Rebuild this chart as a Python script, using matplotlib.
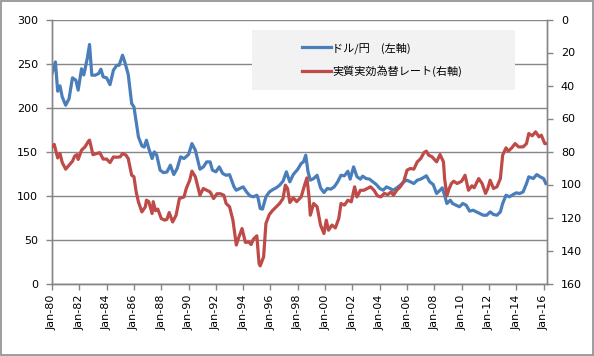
import matplotlib
matplotlib.use("Agg")
import matplotlib.pyplot as plt
from matplotlib.patches import Rectangle
from matplotlib.lines import Line2D
import pandas as pd

# USD/JPY (left axis)
usd_dates = [
    "1980-01", "1980-04", "1980-06", "1980-08", "1980-10", "1981-01", "1981-04", "1981-07",
    "1981-10", "1981-12", "1982-03", "1982-05", "1982-08", "1982-10", "1982-12", "1983-03",
    "1983-06", "1983-08", "1983-10", "1984-01", "1984-04", "1984-07", "1984-10", "1984-12",
    "1985-03", "1985-05", "1985-08", "1985-11", "1986-01", "1986-03", "1986-05", "1986-08",
    "1986-10", "1986-12", "1987-02", "1987-05", "1987-07", "1987-09", "1987-12", "1988-03",
    "1988-06", "1988-09", "1988-12", "1989-03", "1989-06", "1989-09", "1990-01", "1990-04",
    "1990-07", "1990-11", "1991-02", "1991-05", "1991-08", "1991-10", "1992-01", "1992-04",
    "1992-07", "1992-10", "1993-01", "1993-05", "1993-07", "1993-10", "1994-01", "1994-04",
    "1994-07", "1994-10", "1995-01", "1995-02", "1995-04", "1995-06", "1995-09", "1995-12",
    "1996-03", "1996-06", "1996-09", "1996-12", "1997-03", "1997-06", "1997-09", "1998-01",
    "1998-04", "1998-06", "1998-08", "1998-10", "1998-12", "1999-03", "1999-06", "1999-09",
    "1999-12", "2000-03", "2000-06", "2000-09", "2000-12", "2001-03", "2001-06", "2001-09",
    "2001-11", "2002-02", "2002-05", "2002-08", "2002-10", "2003-01", "2003-04", "2003-07",
    "2003-10", "2004-01", "2004-04", "2004-07", "2004-10", "2005-01", "2005-04", "2005-07",
    "2005-10", "2006-01", "2006-04", "2006-07", "2006-10", "2007-01", "2007-03", "2007-06",
    "2007-09", "2007-12", "2008-03", "2008-06", "2008-08", "2008-10", "2008-12", "2009-03",
    "2009-05", "2009-08", "2009-11", "2010-02", "2010-05", "2010-08", "2010-11", "2011-02",
    "2011-05", "2011-08", "2011-11", "2012-02", "2012-05", "2012-08", "2012-11", "2013-01",
    "2013-04", "2013-07", "2013-10", "2014-01", "2014-04", "2014-07", "2014-10", "2014-12",
    "2015-04", "2015-07", "2015-10", "2016-01", "2016-03",
]
usd_jpy = [
    238.6, 251.8, 218.5, 224.6, 212.0, 202.6, 210.0, 233.7,
    231.0, 219.7, 244.0, 237.0, 255.7, 271.6, 236.7, 236.7,
    238.6, 243.5, 234.8, 233.7, 226.0, 242.4, 248.0, 248.0,
    259.4, 251.8, 237.5, 204.5, 200.7, 183.6, 166.6, 156.4,
    155.0, 162.8, 153.4, 142.0, 149.6, 146.0, 128.8, 126.0,
    126.7, 134.4, 123.8, 130.6, 143.9, 142.0, 146.6, 159.0,
    151.5, 129.9, 132.5, 138.2, 138.2, 128.8, 126.9, 132.5,
    125.0, 123.0, 123.7, 109.8, 106.0, 108.0, 109.8, 104.0,
    99.6, 98.5, 100.3, 97.4, 85.2, 84.5, 98.5, 104.0,
    106.7, 108.7, 111.7, 116.3, 126.9, 115.5, 123.8, 129.9,
    136.4, 138.2, 145.8, 126.9, 117.4, 119.3, 123.0, 108.7,
    103.4, 108.0, 107.2, 109.8, 115.5, 123.0, 122.4, 127.6,
    118.6, 132.5, 121.4, 118.6, 122.0, 119.3, 118.6, 115.5,
    112.5, 108.0, 106.0, 109.8, 108.0, 106.0, 108.7, 111.7,
    115.5, 117.4, 115.5, 113.6, 117.4, 118.6, 120.0, 122.4,
    115.5, 112.5, 102.3, 106.0, 108.7, 100.3, 90.9, 94.7,
    90.9, 89.0, 87.2, 90.9, 89.0, 82.2, 83.3, 81.4,
    79.5, 77.6, 77.6, 81.4, 78.4, 77.6, 81.4, 90.9,
    100.3, 98.5, 101.0, 103.0, 102.3, 104.0, 113.6, 121.2,
    119.3, 123.8, 121.2, 119.3, 113.6,
]

# real effective exchange rate (right axis, inverted)
reer_dates = [
    "1980-01", "1980-03", "1980-06", "1980-08", "1980-10", "1981-01", "1981-04", "1981-07",
    "1981-09", "1981-11", "1981-12", "1982-03", "1982-06", "1982-09", "1982-10", "1983-01",
    "1983-04", "1983-07", "1983-10", "1984-01", "1984-04", "1984-07", "1984-10", "1985-01",
    "1985-03", "1985-06", "1985-08", "1985-11", "1986-01", "1986-03", "1986-05", "1986-08",
    "1986-11", "1986-12", "1987-02", "1987-05", "1987-06", "1987-08", "1987-10", "1988-01",
    "1988-04", "1988-06", "1988-08", "1988-11", "1989-02", "1989-05", "1989-09", "1989-11",
    "1990-02", "1990-04", "1990-07", "1990-11", "1991-02", "1991-05", "1991-08", "1991-11",
    "1992-02", "1992-05", "1992-08", "1992-10", "1993-01", "1993-04", "1993-07", "1993-09",
    "1993-12", "1994-03", "1994-06", "1994-08", "1994-10", "1995-01", "1995-03", "1995-04",
    "1995-07", "1995-09", "1995-12", "1996-03", "1996-06", "1996-09", "1996-12", "1997-02",
    "1997-04", "1997-06", "1997-09", "1997-12", "1998-04", "1998-07", "1998-09", "1998-11",
    "1998-12", "1999-03", "1999-06", "1999-09", "1999-12", "2000-02", "2000-04", "2000-07",
    "2000-10", "2001-01", "2001-03", "2001-06", "2001-09", "2001-12", "2002-03", "2002-05",
    "2002-08", "2002-11", "2003-02", "2003-05", "2003-08", "2003-11", "2004-02", "2004-05",
    "2004-08", "2004-11", "2005-01", "2005-04", "2005-07", "2005-10", "2006-01", "2006-04",
    "2006-07", "2006-10", "2007-01", "2007-04", "2007-06", "2007-08", "2007-11", "2008-03",
    "2008-06", "2008-09", "2008-10", "2008-12", "2009-02", "2009-04", "2009-06", "2009-09",
    "2010-01", "2010-04", "2010-07", "2010-10", "2010-12", "2011-04", "2011-07", "2011-10",
    "2011-12", "2012-02", "2012-05", "2012-08", "2012-11", "2013-01", "2013-04", "2013-06",
    "2013-09", "2013-12", "2014-03", "2014-07", "2014-10", "2014-12", "2015-03", "2015-06",
    "2015-09", "2015-11", "2016-02", "2016-03",
]
reer = [
    77.2, 75.7, 83.9, 81.2, 86.7, 90.7, 88.3, 85.9,
    82.7, 81.9, 84.8, 79.2, 77.2, 73.8, 73.1, 81.9,
    81.3, 80.7, 84.6, 84.6, 86.7, 83.3, 83.5, 83.2,
    81.2, 82.2, 84.3, 94.4, 95.3, 104.5, 110.6, 116.6,
    113.6, 109.5, 110.4, 117.6, 110.4, 115.9, 114.9, 120.6,
    121.6, 121.1, 117.0, 122.7, 118.6, 108.5, 107.5, 102.4,
    97.4, 91.9, 95.3, 106.5, 102.4, 103.5, 104.5, 108.5,
    105.6, 105.6, 106.5, 111.5, 113.5, 121.6, 136.7, 132.3,
    126.7, 135.1, 134.8, 136.4, 133.1, 131.1, 147.9, 149.3,
    143.9, 123.6, 118.2, 115.6, 113.6, 111.5, 108.5, 100.4,
    102.4, 110.9, 108.1, 110.4, 107.5, 100.4, 96.0, 108.5,
    118.6, 111.5, 113.5, 124.6, 129.7, 121.6, 127.7, 124.6,
    126.3, 120.6, 111.5, 112.5, 109.5, 110.5, 101.4, 107.5,
    103.5, 103.5, 102.4, 101.4, 103.5, 106.9, 107.5, 105.4,
    106.1, 104.5, 106.5, 103.5, 101.4, 98.4, 91.3, 90.3,
    90.7, 86.3, 84.3, 80.6, 79.8, 82.2, 83.2, 86.3,
    81.8, 86.3, 96.4, 106.9, 102.4, 99.4, 98.0, 99.4,
    98.0, 94.4, 103.5, 100.8, 102.0, 96.4, 99.4, 105.4,
    102.4, 97.4, 102.4, 101.4, 96.4, 82.2, 77.8, 79.8,
    77.8, 75.2, 77.2, 77.2, 75.2, 69.1, 70.5, 68.1,
    71.1, 70.1, 75.2, 75.2,
]

tick_dates = ["1980-01", "1982-01", "1984-01", "1986-01", "1988-01", "1990-01", "1992-01",
              "1994-01", "1996-01", "1998-01", "2000-01", "2002-01", "2004-01", "2006-01",
              "2008-01", "2010-01", "2012-01", "2014-01", "2016-01"]
tick_labels = ["Jan-80", "Jan-82", "Jan-84", "Jan-86", "Jan-88", "Jan-90", "Jan-92",
               "Jan-94", "Jan-96", "Jan-98", "Jan-00", "Jan-02", "Jan-04", "Jan-06",
               "Jan-08", "Jan-10", "Jan-12", "Jan-14", "Jan-16"]

LEGEND_LABELS = ["ドル/円\u3000(左軸)", "実質実効為替レート(右軸)"]
BLUE = "#4A7EBB"
RED = "#BE4B48"
GRID = "#868686"
JP_FONT = ["Noto Sans CJK JP", "DejaVu Sans"]

x_usd = pd.to_datetime(usd_dates)
x_reer = pd.to_datetime(reer_dates)

fig = plt.figure(figsize=(5.94, 3.56), dpi=100)
fig.patch.set_facecolor("white")
fig.patches.append(Rectangle((0.002, 0.003), 0.996, 0.994, transform=fig.transFigure,
                             fill=False, edgecolor="#8c8c8c", lw=1.2))

ax = fig.add_axes([52 / 594, 1 - 283.5 / 356, 495 / 594, 264 / 356])
ax2 = ax.twinx()

ax.plot(x_usd, usd_jpy, color=BLUE, lw=2.3, solid_joinstyle="round", zorder=3)
ax2.plot(x_reer, reer, color=RED, lw=2.3, solid_joinstyle="round", zorder=3)

ax.set_ylim(0, 300)
ax.set_yticks(range(0, 301, 50))
ax2.set_ylim(160, 0)
ax2.set_yticks(range(0, 161, 20))
ax.set_xlim(pd.Timestamp("1980-01-01"), pd.Timestamp("2016-04-01"))
ax.set_xticks(pd.to_datetime(tick_dates), tick_labels, rotation=90)

ax.grid(axis="y", color=GRID, lw=1.0)
ax.set_axisbelow(True)
for a in (ax, ax2):
    a.spines["top"].set_visible(False)
    for side in ("left", "right", "bottom"):
        a.spines[side].set_color(GRID)
        a.spines[side].set_linewidth(1.0)
    a.tick_params(colors=GRID, labelcolor="black", labelsize=8, length=4, width=1)
ax.tick_params(axis="x", pad=4, labelrotation=90)
ax.tick_params(axis="y", pad=6)
ax2.tick_params(axis="y", pad=6)

# legend box (grey background, no frame)
ax2.add_patch(Rectangle((251.5 / 594, 1 - 90 / 356), 263.5 / 594, 60 / 356,
                        transform=fig.transFigure, facecolor="#F2F2F2",
                        edgecolor="none", zorder=5))
handles = [Line2D([], [], color=BLUE, lw=2.3), Line2D([], [], color=RED, lw=2.3)]
leg = ax2.legend(handles, LEGEND_LABELS, loc="upper left",
                 bbox_to_anchor=(292 / 594, 1 - 32 / 356), bbox_transform=fig.transFigure,
                 frameon=False, prop={"family": JP_FONT, "size": 8},
                 handlelength=2.6, handletextpad=0.1, labelspacing=1.05)
leg.set_zorder(6)

fig.savefig("out.png", dpi=100)
